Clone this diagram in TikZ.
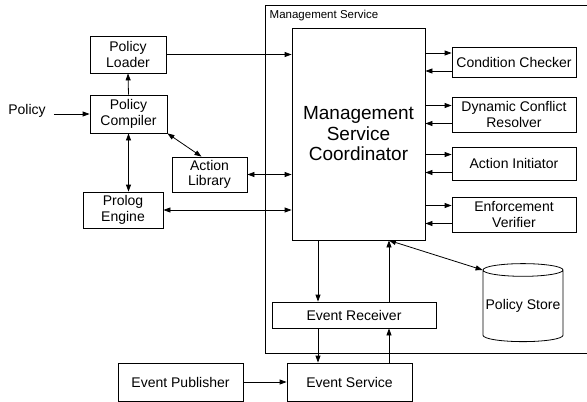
\documentclass[tikz,border=0pt]{standalone}
\usepackage{fontspec}
\setmainfont{Liberation Sans}
\usetikzlibrary{arrows.meta, shapes.geometric}
\tikzset{
  box/.style={draw, line width=0.8pt, align=center, inner sep=0pt,
    font=\fontsize{14}{15.5}\selectfont},
  arr/.style={line width=0.8pt, -{Triangle[length=7pt,width=5pt]}},
  darr/.style={line width=0.8pt, {Triangle[length=7pt,width=5pt]}-{Triangle[length=7pt,width=5pt]}}
}

\begin{document}
\begin{tikzpicture}[x=1pt, y=-1pt]
      \useasboundingbox (0,0) rectangle (587,402);
      % management service frame
      \draw[line width=0.8pt] (587,5) -- (265,5) -- (265,353) -- (587,353);
      \node[anchor=west, inner sep=0pt, font=\fontsize{11.5}{13}\selectfont] (mslabel) at (269.5,16) {Management Service};
      % left side
      \node[box, minimum width=76pt, minimum height=37pt] (loader) at (128,54.5) {Policy\\Loader};
      \node[box, minimum width=77pt, minimum height=38pt] (compiler) at (128.5,114) {Policy\\Compiler};
      \node[inner sep=0pt, font=\fontsize{14}{15.5}\selectfont] (policy) at (27,111) {Policy};
      \node[box, minimum width=75pt, minimum height=35pt] (library) at (209.5,174.5) {Action\\Library};
      \node[box, minimum width=80pt, minimum height=36pt] (prolog) at (123,210) {Prolog\\Engine};
      % coordinator and helpers
      \node[box, minimum width=133pt, minimum height=212pt, font=\fontsize{19}{20.5}\selectfont] (coord) at (358.5,134) {Management\\Service\\Coordinator};
      \node[box, minimum width=124pt, minimum height=30pt] (checker) at (514,62) {Condition Checker};
      \node[box, minimum width=124pt, minimum height=35pt] (resolver) at (514,114.5) {Dynamic Conflict\\Resolver};
      \node[box, minimum width=124pt, minimum height=33pt] (initiator) at (514,163.5) {Action Initiator};
      \node[box, minimum width=124pt, minimum height=35pt] (verifier) at (514,214.5) {Enforcement\\Verifier};
      \node[box, minimum width=164pt, minimum height=26pt] (receiver) at (354,315) {Event Receiver};
      \node[box, cylinder, shape border rotate=90, aspect=0.17, minimum width=80pt, minimum height=78pt] (store) at (523,306) {Policy Store};
      % bottom
      \node[box, minimum width=125pt, minimum height=38pt] (publisher) at (180.5,382) {Event Publisher};
      \node[box, minimum width=125pt, minimum height=38pt] (service) at (349.5,382) {Event Service};
      % connectors
      \draw[arr] ([xshift=8pt]policy.east |- compiler.west) -- (compiler.west);
      \draw[arr] (compiler.north) -- (loader.south);
      \draw[arr] (loader.east) -- (loader.east -| coord.west);
      \draw[darr] (compiler.south) -- (compiler.south |- prolog.north);
      \draw[darr] (compiler.south east) -- ([xshift=-8pt]library.north);
      \draw[darr] (library.east) -- (library.east -| coord.west);
      \draw[darr] (prolog.east) -- (prolog.east -| coord.west);
      \foreach \n in {checker, resolver, initiator, verifier} {
        \draw[arr] ([yshift=9pt]\n.west -| coord.east) -- ([yshift=9pt]\n.west);
        \draw[arr] ([yshift=-9pt]\n.west) -- ([yshift=-9pt]\n.west -| coord.east);
      }
      \coordinate (dn) at ([xshift=-40.5pt]coord.south);
      \coordinate (up) at ([xshift=30.5pt]coord.south);
      \draw[arr] (dn) -- (dn |- receiver.north);
      \draw[arr] (up |- receiver.north) -- (up);
      \draw[darr] (up) -- (store.before top);
      \draw[arr] (dn |- receiver.south) -- (dn |- service.north);
      \draw[arr] (up |- service.north) -- (up |- receiver.south);
      \draw[arr] (publisher.east) -- (service.west);
\end{tikzpicture}
\end{document}
